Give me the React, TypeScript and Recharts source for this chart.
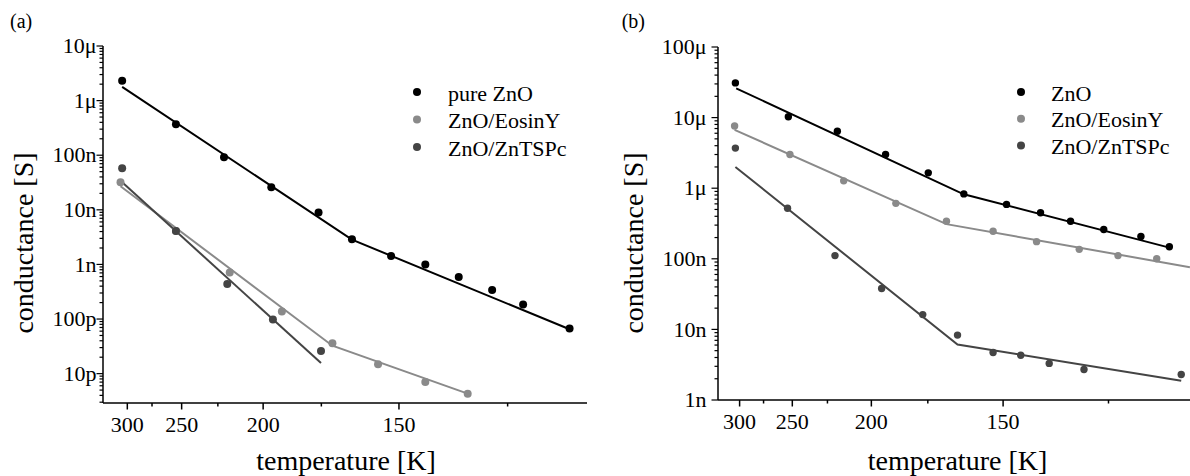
import React from 'react';
import { ComposedChart, Line, Scatter, XAxis, YAxis, Legend } from 'recharts';

const FONT = '"Liberation Serif", "Times New Roman", Times, serif';

// Temperature axis (K); data are plotted against inverse temperature 1000/T
const tempMajor = [300, 250, 200, 150];
const tempMinor = [275, 225, 175, 125];

const seriesColors = ['#000000', '#8a8a8a', '#444444'];

// ---------------- Panel (a) ----------------
const aYMajor = [1e-5, 1e-6, 1e-7, 1e-8, 1e-9, 1e-10, 1e-11];
const aYLabels = ['10μ', '1μ', '100n', '10n', '1n', '100p', '10p'];
const aNames = ['pure ZnO', 'ZnO/EosinY', 'ZnO/ZnTSPc'];

const aZnOInvT = [3.27, 3.93, 4.52, 5.10, 5.68, 6.09, 6.57, 6.99, 7.40, 7.81, 8.19, 8.76];
const aZnOG = [2.3e-6, 3.7e-7, 9.2e-8, 2.6e-8, 8.9e-9, 2.9e-9, 1.43e-9, 1.0e-9, 5.9e-10, 3.4e-10, 1.84e-10, 6.7e-11];
const aZnOFitInvT = [3.27, 6.09, 8.76];
const aZnOFitG = [1.78e-6, 2.84e-9, 6.5e-11];

const aEosInvT = [3.25, 3.93, 4.59, 5.23, 5.85, 6.41, 6.99, 7.51];
const aEosG = [3.2e-8, 4.1e-9, 7.1e-10, 1.38e-10, 3.6e-11, 1.48e-11, 7.0e-12, 4.3e-12];
const aEosFitInvT = [3.25, 5.85, 7.51];
const aEosFitG = [2.7e-8, 3.25e-11, 4.3e-12];

const aTspInvT = [3.27, 3.93, 4.56, 5.12, 5.71];
const aTspG = [5.8e-8, 4.1e-9, 4.4e-10, 9.8e-11, 2.6e-11];
const aTspFitInvT = [3.25, 5.71];
const aTspFitG = [3.4e-8, 1.56e-11];

// ---------------- Panel (b) ----------------
const bYMajor = [1e-4, 1e-5, 1e-6, 1e-7, 1e-8, 1e-9];
const bYLabels = ['100μ', '10μ', '1μ', '100n', '10n', '1n'];
const bNames = ['ZnO', 'ZnO/EosinY', 'ZnO/ZnTSPc'];

const bZnOInvT = [3.28, 3.95, 4.57, 5.18, 5.72, 6.17, 6.71, 7.14, 7.52, 7.94, 8.41, 8.77];
const bZnOG = [3.1e-5, 1.03e-5, 6.4e-6, 3.0e-6, 1.65e-6, 8.3e-7, 5.9e-7, 4.5e-7, 3.4e-7, 2.6e-7, 2.07e-7, 1.48e-7];
const bZnOFitInvT = [3.29, 6.17, 8.77];
const bZnOFitG = [2.6e-5, 8.2e-7, 1.44e-7];

const bEosInvT = [3.27, 3.97, 4.65, 5.31, 5.95, 6.54, 7.09, 7.63, 8.12, 8.61];
const bEosG = [7.6e-6, 3.0e-6, 1.27e-6, 6.1e-7, 3.4e-7, 2.45e-7, 1.75e-7, 1.36e-7, 1.11e-7, 1.0e-7];
const bEosFitInvT = [3.27, 5.95, 9.03];
const bEosFitG = [6.7e-6, 3.1e-7, 7.6e-8];

const bTspInvT = [3.28, 3.94, 4.54, 5.13, 5.65, 6.09, 6.54, 6.89, 7.25, 7.69, 8.92];
const bTspG = [3.7e-6, 5.2e-7, 1.11e-7, 3.8e-8, 1.62e-8, 8.3e-9, 4.7e-9, 4.3e-9, 3.3e-9, 2.7e-9, 2.3e-9];
const bTspFitInvT = [3.28, 6.09, 8.92];
const bTspFitG = [2.0e-6, 6.1e-9, 1.87e-9];

// ---------------- helpers ----------------
type Pt = { x: number; y: number };
type Series = { name: string; color: string; pts: Pt[]; fit: Pt[] };

const zip = (xs: number[], ys: number[]): Pt[] => xs.map((x, i) => ({ x, y: ys[i] }));

function logTicks(lo: number, hi: number): number[] {
  const out: number[] = [];
  const e0 = Math.floor(Math.log10(lo));
  const e1 = Math.ceil(Math.log10(hi));
  for (let e = e0; e <= e1; e++) {
    for (let m = 1; m <= 9; m++) {
      const v = parseFloat(`${m}e${e}`);
      if (v >= lo * 0.999 && v <= hi * 1.001) out.push(v);
    }
  }
  return out;
}

const xTicks = [...tempMajor, ...tempMinor].map((t) => 1000 / t);

const XTick = (props: any) => {
  const { x, y, payload } = props;
  const T = Math.round(1000 / payload.value);
  const major = tempMajor.includes(T);
  return (
    <g>
      <line x1={x} x2={x} y1={y} y2={y + (major ? 6.5 : 3.5)} stroke="#000" strokeWidth={1.5} />
      {major ? (
        <text x={x} y={y + 28.5} textAnchor="middle" fontFamily={FONT} fontSize={22} fill="#000">
          {T}
        </text>
      ) : null}
    </g>
  );
};

const makeYTick = (majors: number[], labels: string[], gap: number) => (props: any) => {
  const { x, y, payload } = props;
  const v = payload.value as number;
  const idx = majors.findIndex((m) => Math.abs(m - v) / m < 1e-6);
  const major = idx >= 0;
  return (
    <g>
      <line x1={x} x2={x - (major ? 6.5 : 3.5)} y1={y} y2={y} stroke="#000" strokeWidth={1.2} />
      {major ? (
        <text x={x - gap} y={y} dy="0.33em" textAnchor="end" fontFamily={FONT} fontSize={22} fill="#000">
          {labels[idx]}
        </text>
      ) : null}
    </g>
  );
};

type PanelCfg = {
  left: number;
  width: number;
  marginTop: number;
  marginRight: number;
  yAxisWidth: number;
  xAxisHeight: number;
  xDomain: [number, number];
  yDomain: [number, number];
  yMajor: number[];
  yLabels: string[];
  yLabelGap: number;
  yTitleX: number;
  xTitleX: number;
  panelLabel: string;
  panelLabelX: number;
  legendLeft: number;
  legendTextDx: number;
  legendRowH: number;
  dotR: number;
  series: Series[];
};

const buildSeries = (names: string[], inv: number[][], g: number[][], fInv: number[][], fG: number[][]): Series[] =>
  names.map((name, i) => ({ name, color: seriesColors[i], pts: zip(inv[i], g[i]), fit: zip(fInv[i], fG[i]) }));

const panelA: PanelCfg = {
  left: 0,
  width: 600,
  marginTop: 46,
  marginRight: 13,
  yAxisWidth: 103,
  xAxisHeight: 73,
  xDomain: [3.035, 8.974],
  yDomain: [2.9e-12, 1e-5],
  yMajor: aYMajor,
  yLabels: aYLabels,
  yLabelGap: 6.5,
  yTitleX: 32.5,
  xTitleX: 346,
  panelLabel: '(a)',
  panelLabelX: 10,
  legendLeft: 404.7,
  legendTextDx: 31,
  legendRowH: 27.5,
  dotR: 4,
  series: buildSeries(
    aNames,
    [aZnOInvT, aEosInvT, aTspInvT],
    [aZnOG, aEosG, aTspG],
    [aZnOFitInvT, aEosFitInvT, aTspFitInvT],
    [aZnOFitG, aEosFitG, aTspFitG]
  ),
};

const panelB: PanelCfg = {
  left: 600,
  width: 590,
  marginTop: 47,
  marginRight: 0,
  yAxisWidth: 118,
  xAxisHeight: 76,
  xDomain: [3.06, 9.031],
  yDomain: [1e-9, 1e-4],
  yMajor: bYMajor,
  yLabels: bYLabels,
  yLabelGap: 11.5,
  yTitleX: 42.5,
  xTitleX: 357.5,
  panelLabel: '(b)',
  panelLabelX: 21.7,
  legendLeft: 409,
  legendTextDx: 30,
  legendRowH: 26.8,
  dotR: 3.7,
  series: buildSeries(
    bNames,
    [bZnOInvT, bEosInvT, bTspInvT],
    [bZnOG, bEosG, bTspG],
    [bZnOFitInvT, bEosFitInvT, bTspFitInvT],
    [bZnOFitG, bEosFitG, bTspFitG]
  ),
};

function Panel({ cfg }: { cfg: PanelCfg }) {
  const H = 476;
  const yTicks = logTicks(cfg.yDomain[0], cfg.yDomain[1]);
  const YTick = makeYTick(cfg.yMajor, cfg.yLabels, cfg.yLabelGap);

  const renderXTitle = () => (
    <text x={cfg.xTitleX} y={470} textAnchor="middle" fontFamily={FONT} fontSize={28} fill="#000">
      temperature [K]
    </text>
  );
  const renderYTitle = () => (
    <g>
      <text
        transform={`translate(${cfg.yTitleX},243) rotate(-90)`}
        textAnchor="middle"
        fontFamily={FONT}
        fontSize={28}
        fill="#000"
      >
        conductance [S]
      </text>
      <text x={cfg.panelLabelX} y={28} fontFamily={FONT} fontSize={20} fill="#000">
        {cfg.panelLabel}
      </text>
    </g>
  );

  const renderLegend = () => (
    <svg width={190} height={90} style={{ display: 'block', overflow: 'visible' }}>
      {cfg.series.map((s, i) => (
        <g key={s.name}>
          <circle cx={12} cy={12 + i * cfg.legendRowH} r={4} fill={s.color} />
          <text
            x={12 + cfg.legendTextDx}
            y={12 + i * cfg.legendRowH + 8.5}
            fontFamily={FONT}
            fontSize={22}
            fill="#000"
          >
            {s.name}
          </text>
        </g>
      ))}
    </svg>
  );

  return (
    <div style={{ position: 'absolute', left: cfg.left, top: 0, width: cfg.width, height: H }}>
      <ComposedChart
        width={cfg.width}
        height={H}
        margin={{ top: cfg.marginTop, right: cfg.marginRight, bottom: 0, left: 0 }}
      >
        <XAxis
          type="number"
          dataKey="x"
          domain={cfg.xDomain}
          allowDataOverflow
          ticks={xTicks}
          interval={0}
          tickLine={false}
          tickSize={0}
          tickMargin={0}
          tick={<XTick />}
          axisLine={{ stroke: '#000', strokeWidth: 1.5 }}
          height={cfg.xAxisHeight}
          label={renderXTitle}
        />
        <YAxis
          type="number"
          dataKey="y"
          scale="log"
          domain={cfg.yDomain}
          allowDataOverflow
          ticks={yTicks}
          interval={0}
          tickLine={false}
          tickSize={0}
          tickMargin={0}
          tick={<YTick />}
          axisLine={{ stroke: '#000', strokeWidth: 1.5 }}
          width={cfg.yAxisWidth}
          label={renderYTitle}
        />
        {cfg.series.map((s) => (
          <Line
            key={`fit-${s.name}`}
            data={s.fit}
            dataKey="y"
            type="linear"
            stroke={s.color}
            strokeWidth={2}
            dot={false}
            activeDot={false}
            legendType="none"
            isAnimationActive={false}
          />
        ))}
        {cfg.series.map((s) => (
          <Scatter
            key={`pts-${s.name}`}
            name={s.name}
            data={s.pts}
            dataKey="y"
            fill={s.color}
            isAnimationActive={false}
            shape={(p: any) => <circle cx={p.cx} cy={p.cy} r={cfg.dotR} fill={s.color} />}
          />
        ))}
        <Legend
          layout="horizontal"
          verticalAlign="middle"
          align="center"
          content={renderLegend}
          wrapperStyle={{ left: cfg.legendLeft, top: 80.3, width: 190, height: 90 }}
        />
      </ComposedChart>
    </div>
  );
}

export default function App() {
  return (
    <div style={{ position: 'absolute', left: 0, top: 0, width: 1190, height: 476, background: '#fff' }}>
      <Panel cfg={panelA} />
      <Panel cfg={panelB} />
    </div>
  );
}
